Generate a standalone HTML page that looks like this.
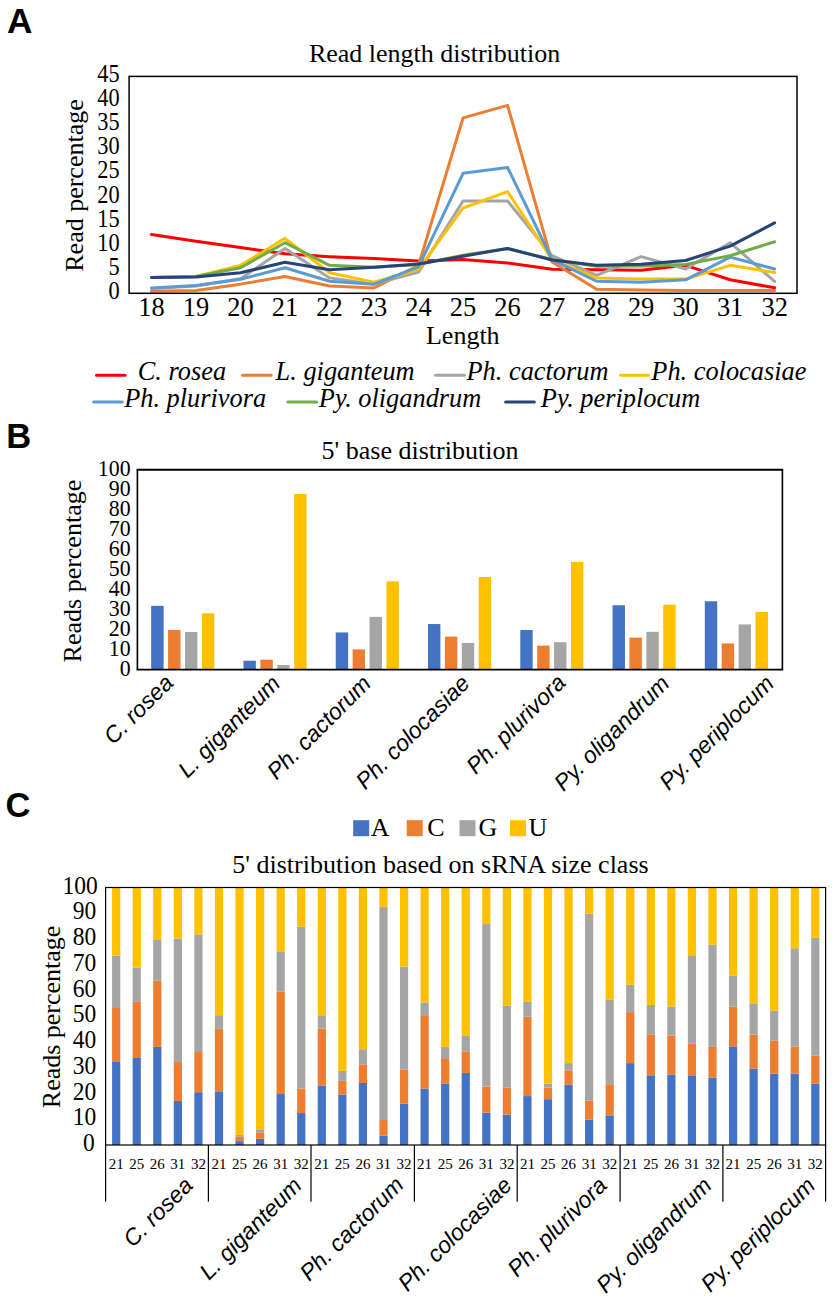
<!DOCTYPE html>
<html><head><meta charset="utf-8"><style>
html,body{margin:0;padding:0;background:#fff;}
svg{display:block;}
</style></head><body>
<svg width="833" height="1300" viewBox="0 0 833 1300">
<rect width="833" height="1300" fill="#fff"/>
<text x="7.00" y="33.20" font-family="'Liberation Sans', sans-serif" font-size="35.2" text-anchor="start" font-weight="bold" >A</text>
<text x="6.30" y="447.80" font-family="'Liberation Sans', sans-serif" font-size="34.5" text-anchor="start" font-weight="bold" >B</text>
<text x="5.60" y="817.20" font-family="'Liberation Sans', sans-serif" font-size="34.5" text-anchor="start" font-weight="bold" >C</text>
<text x="434.60" y="61.70" font-family="'Liberation Serif', serif" font-size="26" text-anchor="middle"  >Read length distribution</text>
<text transform="translate(83.2,185.5) rotate(-90)" font-family="'Liberation Serif', serif" font-size="26" text-anchor="middle">Read percentage</text>
<text transform="translate(119.6,298.90) scale(0.97,1.06)" font-family="'Liberation Serif', serif" font-size="23" text-anchor="end">0</text>
<text transform="translate(119.6,274.80) scale(0.97,1.06)" font-family="'Liberation Serif', serif" font-size="23" text-anchor="end">5</text>
<text transform="translate(119.6,250.70) scale(0.97,1.06)" font-family="'Liberation Serif', serif" font-size="23" text-anchor="end">10</text>
<text transform="translate(119.6,226.60) scale(0.97,1.06)" font-family="'Liberation Serif', serif" font-size="23" text-anchor="end">15</text>
<text transform="translate(119.6,202.50) scale(0.97,1.06)" font-family="'Liberation Serif', serif" font-size="23" text-anchor="end">20</text>
<text transform="translate(119.6,178.40) scale(0.97,1.06)" font-family="'Liberation Serif', serif" font-size="23" text-anchor="end">25</text>
<text transform="translate(119.6,154.30) scale(0.97,1.06)" font-family="'Liberation Serif', serif" font-size="23" text-anchor="end">30</text>
<text transform="translate(119.6,130.20) scale(0.97,1.06)" font-family="'Liberation Serif', serif" font-size="23" text-anchor="end">35</text>
<text transform="translate(119.6,106.10) scale(0.97,1.06)" font-family="'Liberation Serif', serif" font-size="23" text-anchor="end">40</text>
<text transform="translate(119.6,82.00) scale(0.97,1.06)" font-family="'Liberation Serif', serif" font-size="23" text-anchor="end">45</text>
<text x="151.46" y="315.80" font-family="'Liberation Serif', serif" font-size="26.4" text-anchor="middle"  >18</text>
<text x="195.97" y="315.80" font-family="'Liberation Serif', serif" font-size="26.4" text-anchor="middle"  >19</text>
<text x="240.48" y="315.80" font-family="'Liberation Serif', serif" font-size="26.4" text-anchor="middle"  >20</text>
<text x="285.00" y="315.80" font-family="'Liberation Serif', serif" font-size="26.4" text-anchor="middle"  >21</text>
<text x="329.51" y="315.80" font-family="'Liberation Serif', serif" font-size="26.4" text-anchor="middle"  >22</text>
<text x="374.02" y="315.80" font-family="'Liberation Serif', serif" font-size="26.4" text-anchor="middle"  >23</text>
<text x="418.54" y="315.80" font-family="'Liberation Serif', serif" font-size="26.4" text-anchor="middle"  >24</text>
<text x="463.05" y="315.80" font-family="'Liberation Serif', serif" font-size="26.4" text-anchor="middle"  >25</text>
<text x="507.56" y="315.80" font-family="'Liberation Serif', serif" font-size="26.4" text-anchor="middle"  >26</text>
<text x="552.08" y="315.80" font-family="'Liberation Serif', serif" font-size="26.4" text-anchor="middle"  >27</text>
<text x="596.59" y="315.80" font-family="'Liberation Serif', serif" font-size="26.4" text-anchor="middle"  >28</text>
<text x="641.10" y="315.80" font-family="'Liberation Serif', serif" font-size="26.4" text-anchor="middle"  >29</text>
<text x="685.62" y="315.80" font-family="'Liberation Serif', serif" font-size="26.4" text-anchor="middle"  >30</text>
<text x="730.13" y="315.80" font-family="'Liberation Serif', serif" font-size="26.4" text-anchor="middle"  >31</text>
<text x="774.64" y="315.80" font-family="'Liberation Serif', serif" font-size="26.4" text-anchor="middle"  >32</text>
<text x="462.80" y="343.90" font-family="'Liberation Serif', serif" font-size="26" text-anchor="middle"  >Length</text>
<polyline points="151.46,234.50 195.97,241.24 240.48,247.51 285.00,253.78 329.51,256.67 374.02,258.60 418.54,261.01 463.05,259.56 507.56,262.93 552.08,269.20 596.59,269.68 641.10,270.16 685.62,265.34 730.13,279.80 774.64,287.76" fill="none" stroke="#FF0000" stroke-width="3.0" stroke-linejoin="round" stroke-linecap="round"/>
<polyline points="151.46,291.37 195.97,290.41 240.48,284.14 285.00,276.43 329.51,286.07 374.02,288.00 418.54,265.34 463.05,117.85 507.56,105.32 552.08,261.97 596.59,289.20 641.10,289.93 685.62,290.41 730.13,290.41 774.64,290.41" fill="none" stroke="#ED7D31" stroke-width="3.0" stroke-linejoin="round" stroke-linecap="round"/>
<polyline points="151.46,288.48 195.97,286.07 240.48,278.84 285.00,248.47 329.51,277.88 374.02,284.14 418.54,272.09 463.05,201.00 507.56,201.00 552.08,255.70 596.59,275.47 641.10,256.67 685.62,268.96 730.13,242.69 774.64,281.49" fill="none" stroke="#A5A5A5" stroke-width="3.0" stroke-linejoin="round" stroke-linecap="round"/>
<polyline points="151.46,277.39 195.97,276.43 240.48,265.34 285.00,238.35 329.51,272.81 374.02,282.21 418.54,269.20 463.05,207.99 507.56,191.60 552.08,259.56 596.59,277.88 641.10,279.08 685.62,279.08 730.13,265.34 774.64,272.57" fill="none" stroke="#FFC000" stroke-width="3.0" stroke-linejoin="round" stroke-linecap="round"/>
<polyline points="151.46,288.00 195.97,285.59 240.48,279.32 285.00,267.75 329.51,281.25 374.02,284.14 418.54,266.79 463.05,173.28 507.56,167.50 552.08,259.56 596.59,281.25 641.10,282.21 685.62,279.80 730.13,257.15 774.64,268.96" fill="none" stroke="#5B9BD5" stroke-width="3.0" stroke-linejoin="round" stroke-linecap="round"/>
<polyline points="151.46,277.39 195.97,276.43 240.48,267.75 285.00,242.69 329.51,265.34 374.02,267.27 418.54,264.38 463.05,255.22 507.56,248.47 552.08,259.56 596.59,266.31 641.10,266.07 685.62,264.38 730.13,255.70 774.64,241.73" fill="none" stroke="#70AD47" stroke-width="3.0" stroke-linejoin="round" stroke-linecap="round"/>
<polyline points="151.46,277.39 195.97,276.91 240.48,272.81 285.00,262.21 329.51,269.68 374.02,267.27 418.54,263.90 463.05,256.19 507.56,248.47 552.08,260.04 596.59,265.34 641.10,264.14 685.62,260.52 730.13,246.06 774.64,222.93" fill="none" stroke="#264478" stroke-width="3.0" stroke-linejoin="round" stroke-linecap="round"/>
<rect x="129.10" y="76.4" width="667.90" height="216.90" fill="none" stroke="#000" stroke-width="1.5"/>
<line x1="96.50" y1="375.3" x2="125.00" y2="375.3" stroke="#FF0000" stroke-width="3" stroke-linecap="round"/>
<text x="137.80" y="380.40" font-family="'Liberation Serif', serif" font-size="26.35" text-anchor="start" font-style="italic" >C. rosea</text>
<line x1="242.50" y1="375.2" x2="271.00" y2="375.2" stroke="#ED7D31" stroke-width="3" stroke-linecap="round"/>
<text x="275.60" y="380.30" font-family="'Liberation Serif', serif" font-size="26.35" text-anchor="start" font-style="italic" >L. giganteum</text>
<line x1="435.60" y1="375.2" x2="464.50" y2="375.2" stroke="#A5A5A5" stroke-width="3" stroke-linecap="round"/>
<text x="466.50" y="380.30" font-family="'Liberation Serif', serif" font-size="26.35" text-anchor="start" font-style="italic" >Ph. cactorum</text>
<line x1="620.50" y1="375.2" x2="648.50" y2="375.2" stroke="#FFC000" stroke-width="3" stroke-linecap="round"/>
<text x="651.30" y="380.30" font-family="'Liberation Serif', serif" font-size="26.35" text-anchor="start" font-style="italic" >Ph. colocasiae</text>
<line x1="93.60" y1="402.1" x2="122.30" y2="402.1" stroke="#5B9BD5" stroke-width="3" stroke-linecap="round"/>
<text x="124.20" y="407.20" font-family="'Liberation Serif', serif" font-size="26.35" text-anchor="start" font-style="italic" >Ph. plurivora</text>
<line x1="287.90" y1="402.0" x2="316.60" y2="402.0" stroke="#70AD47" stroke-width="3" stroke-linecap="round"/>
<text x="318.80" y="407.10" font-family="'Liberation Serif', serif" font-size="26.35" text-anchor="start" font-style="italic" >Py. oligandrum</text>
<line x1="505.60" y1="402.0" x2="534.30" y2="402.0" stroke="#264478" stroke-width="3" stroke-linecap="round"/>
<text x="540.80" y="407.10" font-family="'Liberation Serif', serif" font-size="26.35" text-anchor="start" font-style="italic" >Py. periplocum</text>
<text x="420.00" y="458.60" font-family="'Liberation Serif', serif" font-size="26" text-anchor="middle"  >5' base distribution</text>
<text transform="translate(80.5,571.1) rotate(-90)" font-family="'Liberation Serif', serif" font-size="26" text-anchor="middle">Reads percentage</text>
<text transform="translate(130.6,676.20) scale(0.95,1.02)" font-family="'Liberation Serif', serif" font-size="23" text-anchor="end">0</text>
<text transform="translate(130.6,656.22) scale(0.95,1.02)" font-family="'Liberation Serif', serif" font-size="23" text-anchor="end">10</text>
<text transform="translate(130.6,636.24) scale(0.95,1.02)" font-family="'Liberation Serif', serif" font-size="23" text-anchor="end">20</text>
<text transform="translate(130.6,616.26) scale(0.95,1.02)" font-family="'Liberation Serif', serif" font-size="23" text-anchor="end">30</text>
<text transform="translate(130.6,596.28) scale(0.95,1.02)" font-family="'Liberation Serif', serif" font-size="23" text-anchor="end">40</text>
<text transform="translate(130.6,576.30) scale(0.95,1.02)" font-family="'Liberation Serif', serif" font-size="23" text-anchor="end">50</text>
<text transform="translate(130.6,556.32) scale(0.95,1.02)" font-family="'Liberation Serif', serif" font-size="23" text-anchor="end">60</text>
<text transform="translate(130.6,536.34) scale(0.95,1.02)" font-family="'Liberation Serif', serif" font-size="23" text-anchor="end">70</text>
<text transform="translate(130.6,516.36) scale(0.95,1.02)" font-family="'Liberation Serif', serif" font-size="23" text-anchor="end">80</text>
<text transform="translate(130.6,496.38) scale(0.95,1.02)" font-family="'Liberation Serif', serif" font-size="23" text-anchor="end">90</text>
<text transform="translate(130.6,476.40) scale(0.95,1.02)" font-family="'Liberation Serif', serif" font-size="23" text-anchor="end">100</text>
<rect x="151.20" y="605.86" width="12.4" height="63.74" fill="#4472C4"/>
<rect x="168.10" y="629.94" width="12.4" height="39.66" fill="#ED7D31"/>
<rect x="185.00" y="631.94" width="12.4" height="37.66" fill="#A5A5A5"/>
<rect x="201.90" y="613.26" width="12.4" height="56.34" fill="#FFC000"/>
<rect x="243.47" y="660.71" width="12.4" height="8.89" fill="#4472C4"/>
<rect x="260.37" y="659.71" width="12.4" height="9.89" fill="#ED7D31"/>
<rect x="277.27" y="665.00" width="12.4" height="4.60" fill="#A5A5A5"/>
<rect x="294.17" y="493.98" width="12.4" height="175.62" fill="#FFC000"/>
<rect x="335.74" y="632.44" width="12.4" height="37.16" fill="#4472C4"/>
<rect x="352.64" y="649.42" width="12.4" height="20.18" fill="#ED7D31"/>
<rect x="369.54" y="616.85" width="12.4" height="52.75" fill="#A5A5A5"/>
<rect x="386.44" y="581.29" width="12.4" height="88.31" fill="#FFC000"/>
<rect x="428.01" y="624.05" width="12.4" height="45.55" fill="#4472C4"/>
<rect x="444.91" y="636.63" width="12.4" height="32.97" fill="#ED7D31"/>
<rect x="461.81" y="642.93" width="12.4" height="26.67" fill="#A5A5A5"/>
<rect x="478.71" y="576.99" width="12.4" height="92.61" fill="#FFC000"/>
<rect x="520.28" y="630.04" width="12.4" height="39.56" fill="#4472C4"/>
<rect x="537.18" y="645.62" width="12.4" height="23.98" fill="#ED7D31"/>
<rect x="554.08" y="642.23" width="12.4" height="27.37" fill="#A5A5A5"/>
<rect x="570.98" y="561.91" width="12.4" height="107.69" fill="#FFC000"/>
<rect x="612.55" y="605.26" width="12.4" height="64.34" fill="#4472C4"/>
<rect x="629.45" y="637.63" width="12.4" height="31.97" fill="#ED7D31"/>
<rect x="646.35" y="631.84" width="12.4" height="37.76" fill="#A5A5A5"/>
<rect x="663.25" y="604.66" width="12.4" height="64.94" fill="#FFC000"/>
<rect x="704.82" y="601.27" width="12.4" height="68.33" fill="#4472C4"/>
<rect x="721.72" y="643.43" width="12.4" height="26.17" fill="#ED7D31"/>
<rect x="738.62" y="624.45" width="12.4" height="45.15" fill="#A5A5A5"/>
<rect x="755.52" y="612.06" width="12.4" height="57.54" fill="#FFC000"/>
<path d="M137.4,469.8 V669.6 M782.4,469.8 V669.6" stroke="#000" stroke-width="1.6" fill="none"/>
<path d="M136.6,469.8 H783.1999999999999 M136.6,669.6 H783.1999999999999" stroke="#000" stroke-width="1.9" fill="none"/>
<text transform="translate(174.70,684.10) rotate(-45)" font-family="'Liberation Sans', sans-serif" font-size="23" font-style="italic" text-anchor="end">C. rosea</text>
<text transform="translate(281.50,685.00) rotate(-45)" font-family="'Liberation Sans', sans-serif" font-size="23" font-style="italic" text-anchor="end">L. giganteum</text>
<text transform="translate(372.30,685.00) rotate(-45)" font-family="'Liberation Sans', sans-serif" font-size="23" font-style="italic" text-anchor="end">Ph. cactorum</text>
<text transform="translate(471.10,684.70) rotate(-45)" font-family="'Liberation Sans', sans-serif" font-size="23" font-style="italic" text-anchor="end">Ph. colocasiae</text>
<text transform="translate(567.00,684.00) rotate(-45)" font-family="'Liberation Sans', sans-serif" font-size="23" font-style="italic" text-anchor="end">Ph. plurivora</text>
<text transform="translate(670.80,685.00) rotate(-45)" font-family="'Liberation Sans', sans-serif" font-size="23" font-style="italic" text-anchor="end">Py. oligandrum</text>
<text transform="translate(775.20,685.00) rotate(-45)" font-family="'Liberation Sans', sans-serif" font-size="23" font-style="italic" text-anchor="end">Py. periplocum</text>
<rect x="353.2" y="820.2" width="16" height="16" fill="#4472C4"/>
<text x="370.70" y="836.40" font-family="'Liberation Serif', serif" font-size="26" text-anchor="start"  >A</text>
<rect x="406.7" y="820.2" width="16" height="16" fill="#ED7D31"/>
<text x="427.20" y="836.40" font-family="'Liberation Serif', serif" font-size="26" text-anchor="start"  >C</text>
<rect x="459.5" y="820.2" width="16" height="16" fill="#A5A5A5"/>
<text x="478.50" y="836.40" font-family="'Liberation Serif', serif" font-size="26" text-anchor="start"  >G</text>
<rect x="510.0" y="820.2" width="16" height="16" fill="#FFC000"/>
<text x="528.50" y="836.40" font-family="'Liberation Serif', serif" font-size="26" text-anchor="start"  >U</text>
<text x="440.50" y="872.70" font-family="'Liberation Serif', serif" font-size="26" text-anchor="middle"  >5' distribution based on sRNA size class</text>
<text transform="translate(60.0,1016.9) rotate(-90)" font-family="'Liberation Serif', serif" font-size="26" text-anchor="middle">Reads percentage</text>
<text transform="translate(94.7,1151.00) scale(1,1.05)" font-family="'Liberation Serif', serif" font-size="23.5" text-anchor="end">0</text>
<text transform="translate(96.2,1125.25) scale(1,1.05)" font-family="'Liberation Serif', serif" font-size="23.5" text-anchor="end">10</text>
<text transform="translate(96.2,1099.50) scale(1,1.05)" font-family="'Liberation Serif', serif" font-size="23.5" text-anchor="end">20</text>
<text transform="translate(96.2,1073.75) scale(1,1.05)" font-family="'Liberation Serif', serif" font-size="23.5" text-anchor="end">30</text>
<text transform="translate(96.2,1048.00) scale(1,1.05)" font-family="'Liberation Serif', serif" font-size="23.5" text-anchor="end">40</text>
<text transform="translate(96.2,1022.25) scale(1,1.05)" font-family="'Liberation Serif', serif" font-size="23.5" text-anchor="end">50</text>
<text transform="translate(96.2,996.50) scale(1,1.05)" font-family="'Liberation Serif', serif" font-size="23.5" text-anchor="end">60</text>
<text transform="translate(96.2,970.75) scale(1,1.05)" font-family="'Liberation Serif', serif" font-size="23.5" text-anchor="end">70</text>
<text transform="translate(96.2,945.00) scale(1,1.05)" font-family="'Liberation Serif', serif" font-size="23.5" text-anchor="end">80</text>
<text transform="translate(96.2,919.25) scale(1,1.05)" font-family="'Liberation Serif', serif" font-size="23.5" text-anchor="end">90</text>
<text transform="translate(97.7,893.50) scale(1,1.05)" font-family="'Liberation Serif', serif" font-size="23.5" text-anchor="end">100</text>
<rect x="112.08" y="1061.31" width="8.2" height="83.69" fill="#4472C4"/>
<rect x="112.08" y="1008.01" width="8.2" height="53.30" fill="#ED7D31"/>
<rect x="112.08" y="955.74" width="8.2" height="52.27" fill="#A5A5A5"/>
<rect x="112.08" y="887.50" width="8.2" height="68.24" fill="#FFC000"/>
<text x="116.18" y="1168.60" font-family="'Liberation Serif', serif" font-size="15" text-anchor="middle"  >21</text>
<rect x="132.64" y="1057.96" width="8.2" height="87.03" fill="#4472C4"/>
<rect x="132.64" y="1001.32" width="8.2" height="56.65" fill="#ED7D31"/>
<rect x="132.64" y="967.58" width="8.2" height="33.73" fill="#A5A5A5"/>
<rect x="132.64" y="887.50" width="8.2" height="80.08" fill="#FFC000"/>
<text x="136.74" y="1168.60" font-family="'Liberation Serif', serif" font-size="15" text-anchor="middle"  >25</text>
<rect x="153.21" y="1046.89" width="8.2" height="98.11" fill="#4472C4"/>
<rect x="153.21" y="980.46" width="8.2" height="66.44" fill="#ED7D31"/>
<rect x="153.21" y="940.03" width="8.2" height="40.43" fill="#A5A5A5"/>
<rect x="153.21" y="887.50" width="8.2" height="52.53" fill="#FFC000"/>
<text x="157.31" y="1168.60" font-family="'Liberation Serif', serif" font-size="15" text-anchor="middle"  >26</text>
<rect x="173.77" y="1100.97" width="8.2" height="44.03" fill="#4472C4"/>
<rect x="173.77" y="1062.09" width="8.2" height="38.88" fill="#ED7D31"/>
<rect x="173.77" y="938.49" width="8.2" height="123.60" fill="#A5A5A5"/>
<rect x="173.77" y="887.50" width="8.2" height="50.98" fill="#FFC000"/>
<text x="177.87" y="1168.60" font-family="'Liberation Serif', serif" font-size="15" text-anchor="middle"  >31</text>
<rect x="194.33" y="1092.21" width="8.2" height="52.79" fill="#4472C4"/>
<rect x="194.33" y="1052.04" width="8.2" height="40.17" fill="#ED7D31"/>
<rect x="194.33" y="934.37" width="8.2" height="117.68" fill="#A5A5A5"/>
<rect x="194.33" y="887.50" width="8.2" height="46.87" fill="#FFC000"/>
<text x="198.43" y="1168.60" font-family="'Liberation Serif', serif" font-size="15" text-anchor="middle"  >32</text>
<rect x="214.90" y="1091.95" width="8.2" height="53.05" fill="#4472C4"/>
<rect x="214.90" y="1028.87" width="8.2" height="63.09" fill="#ED7D31"/>
<rect x="214.90" y="1015.22" width="8.2" height="13.65" fill="#A5A5A5"/>
<rect x="214.90" y="887.50" width="8.2" height="127.72" fill="#FFC000"/>
<text x="219.00" y="1168.60" font-family="'Liberation Serif', serif" font-size="15" text-anchor="middle"  >21</text>
<rect x="235.46" y="1141.14" width="8.2" height="3.86" fill="#4472C4"/>
<rect x="235.46" y="1136.76" width="8.2" height="4.38" fill="#ED7D31"/>
<rect x="235.46" y="1134.96" width="8.2" height="1.80" fill="#A5A5A5"/>
<rect x="235.46" y="887.50" width="8.2" height="247.46" fill="#FFC000"/>
<text x="239.56" y="1168.60" font-family="'Liberation Serif', serif" font-size="15" text-anchor="middle"  >25</text>
<rect x="256.02" y="1138.82" width="8.2" height="6.18" fill="#4472C4"/>
<rect x="256.02" y="1132.38" width="8.2" height="6.44" fill="#ED7D31"/>
<rect x="256.02" y="1129.29" width="8.2" height="3.09" fill="#A5A5A5"/>
<rect x="256.02" y="887.50" width="8.2" height="241.79" fill="#FFC000"/>
<text x="260.12" y="1168.60" font-family="'Liberation Serif', serif" font-size="15" text-anchor="middle"  >26</text>
<rect x="276.58" y="1094.02" width="8.2" height="50.99" fill="#4472C4"/>
<rect x="276.58" y="991.53" width="8.2" height="102.48" fill="#ED7D31"/>
<rect x="276.58" y="951.36" width="8.2" height="40.17" fill="#A5A5A5"/>
<rect x="276.58" y="887.50" width="8.2" height="63.86" fill="#FFC000"/>
<text x="280.68" y="1168.60" font-family="'Liberation Serif', serif" font-size="15" text-anchor="middle"  >31</text>
<rect x="297.15" y="1113.07" width="8.2" height="31.93" fill="#4472C4"/>
<rect x="297.15" y="1088.61" width="8.2" height="24.46" fill="#ED7D31"/>
<rect x="297.15" y="926.64" width="8.2" height="161.97" fill="#A5A5A5"/>
<rect x="297.15" y="887.50" width="8.2" height="39.14" fill="#FFC000"/>
<text x="301.25" y="1168.60" font-family="'Liberation Serif', serif" font-size="15" text-anchor="middle"  >32</text>
<rect x="317.71" y="1085.52" width="8.2" height="59.48" fill="#4472C4"/>
<rect x="317.71" y="1028.61" width="8.2" height="56.91" fill="#ED7D31"/>
<rect x="317.71" y="1015.99" width="8.2" height="12.62" fill="#A5A5A5"/>
<rect x="317.71" y="887.50" width="8.2" height="128.49" fill="#FFC000"/>
<text x="321.81" y="1168.60" font-family="'Liberation Serif', serif" font-size="15" text-anchor="middle"  >21</text>
<rect x="338.27" y="1094.53" width="8.2" height="50.47" fill="#4472C4"/>
<rect x="338.27" y="1080.88" width="8.2" height="13.65" fill="#ED7D31"/>
<rect x="338.27" y="1070.84" width="8.2" height="10.04" fill="#A5A5A5"/>
<rect x="338.27" y="887.50" width="8.2" height="183.34" fill="#FFC000"/>
<text x="342.37" y="1168.60" font-family="'Liberation Serif', serif" font-size="15" text-anchor="middle"  >25</text>
<rect x="358.84" y="1082.94" width="8.2" height="62.06" fill="#4472C4"/>
<rect x="358.84" y="1064.40" width="8.2" height="18.54" fill="#ED7D31"/>
<rect x="358.84" y="1049.21" width="8.2" height="15.19" fill="#A5A5A5"/>
<rect x="358.84" y="887.50" width="8.2" height="161.71" fill="#FFC000"/>
<text x="362.94" y="1168.60" font-family="'Liberation Serif', serif" font-size="15" text-anchor="middle"  >26</text>
<rect x="379.40" y="1135.73" width="8.2" height="9.27" fill="#4472C4"/>
<rect x="379.40" y="1120.02" width="8.2" height="15.71" fill="#ED7D31"/>
<rect x="379.40" y="907.07" width="8.2" height="212.95" fill="#A5A5A5"/>
<rect x="379.40" y="887.50" width="8.2" height="19.57" fill="#FFC000"/>
<text x="383.50" y="1168.60" font-family="'Liberation Serif', serif" font-size="15" text-anchor="middle"  >31</text>
<rect x="399.96" y="1103.80" width="8.2" height="41.20" fill="#4472C4"/>
<rect x="399.96" y="1069.81" width="8.2" height="33.99" fill="#ED7D31"/>
<rect x="399.96" y="966.55" width="8.2" height="103.26" fill="#A5A5A5"/>
<rect x="399.96" y="887.50" width="8.2" height="79.05" fill="#FFC000"/>
<text x="404.06" y="1168.60" font-family="'Liberation Serif', serif" font-size="15" text-anchor="middle"  >32</text>
<rect x="420.52" y="1088.61" width="8.2" height="56.39" fill="#4472C4"/>
<rect x="420.52" y="1015.22" width="8.2" height="73.39" fill="#ED7D31"/>
<rect x="420.52" y="1002.35" width="8.2" height="12.88" fill="#A5A5A5"/>
<rect x="420.52" y="887.50" width="8.2" height="114.85" fill="#FFC000"/>
<text x="424.62" y="1168.60" font-family="'Liberation Serif', serif" font-size="15" text-anchor="middle"  >21</text>
<rect x="441.09" y="1083.46" width="8.2" height="61.54" fill="#4472C4"/>
<rect x="441.09" y="1058.99" width="8.2" height="24.46" fill="#ED7D31"/>
<rect x="441.09" y="1046.89" width="8.2" height="12.10" fill="#A5A5A5"/>
<rect x="441.09" y="887.50" width="8.2" height="159.39" fill="#FFC000"/>
<text x="445.19" y="1168.60" font-family="'Liberation Serif', serif" font-size="15" text-anchor="middle"  >25</text>
<rect x="461.65" y="1072.90" width="8.2" height="72.10" fill="#4472C4"/>
<rect x="461.65" y="1051.79" width="8.2" height="21.12" fill="#ED7D31"/>
<rect x="461.65" y="1035.82" width="8.2" height="15.96" fill="#A5A5A5"/>
<rect x="461.65" y="887.50" width="8.2" height="148.32" fill="#FFC000"/>
<text x="465.75" y="1168.60" font-family="'Liberation Serif', serif" font-size="15" text-anchor="middle"  >26</text>
<rect x="482.21" y="1112.56" width="8.2" height="32.45" fill="#4472C4"/>
<rect x="482.21" y="1086.55" width="8.2" height="26.01" fill="#ED7D31"/>
<rect x="482.21" y="924.07" width="8.2" height="162.48" fill="#A5A5A5"/>
<rect x="482.21" y="887.50" width="8.2" height="36.57" fill="#FFC000"/>
<text x="486.31" y="1168.60" font-family="'Liberation Serif', serif" font-size="15" text-anchor="middle"  >31</text>
<rect x="502.78" y="1114.62" width="8.2" height="30.39" fill="#4472C4"/>
<rect x="502.78" y="1087.58" width="8.2" height="27.04" fill="#ED7D31"/>
<rect x="502.78" y="1005.69" width="8.2" height="81.89" fill="#A5A5A5"/>
<rect x="502.78" y="887.50" width="8.2" height="118.19" fill="#FFC000"/>
<text x="506.88" y="1168.60" font-family="'Liberation Serif', serif" font-size="15" text-anchor="middle"  >32</text>
<rect x="523.34" y="1096.08" width="8.2" height="48.93" fill="#4472C4"/>
<rect x="523.34" y="1016.76" width="8.2" height="79.31" fill="#ED7D31"/>
<rect x="523.34" y="1001.57" width="8.2" height="15.19" fill="#A5A5A5"/>
<rect x="523.34" y="887.50" width="8.2" height="114.07" fill="#FFC000"/>
<text x="527.44" y="1168.60" font-family="'Liberation Serif', serif" font-size="15" text-anchor="middle"  >21</text>
<rect x="543.90" y="1099.16" width="8.2" height="45.84" fill="#4472C4"/>
<rect x="543.90" y="1087.58" width="8.2" height="11.59" fill="#ED7D31"/>
<rect x="543.90" y="1083.46" width="8.2" height="4.12" fill="#A5A5A5"/>
<rect x="543.90" y="887.50" width="8.2" height="195.96" fill="#FFC000"/>
<text x="548.00" y="1168.60" font-family="'Liberation Serif', serif" font-size="15" text-anchor="middle"  >25</text>
<rect x="564.46" y="1084.74" width="8.2" height="60.26" fill="#4472C4"/>
<rect x="564.46" y="1070.33" width="8.2" height="14.42" fill="#ED7D31"/>
<rect x="564.46" y="1063.12" width="8.2" height="7.21" fill="#A5A5A5"/>
<rect x="564.46" y="887.50" width="8.2" height="175.62" fill="#FFC000"/>
<text x="568.56" y="1168.60" font-family="'Liberation Serif', serif" font-size="15" text-anchor="middle"  >26</text>
<rect x="585.03" y="1119.51" width="8.2" height="25.49" fill="#4472C4"/>
<rect x="585.03" y="1100.71" width="8.2" height="18.80" fill="#ED7D31"/>
<rect x="585.03" y="913.76" width="8.2" height="186.94" fill="#A5A5A5"/>
<rect x="585.03" y="887.50" width="8.2" height="26.27" fill="#FFC000"/>
<text x="589.13" y="1168.60" font-family="'Liberation Serif', serif" font-size="15" text-anchor="middle"  >31</text>
<rect x="605.59" y="1115.90" width="8.2" height="29.10" fill="#4472C4"/>
<rect x="605.59" y="1084.23" width="8.2" height="31.67" fill="#ED7D31"/>
<rect x="605.59" y="999.77" width="8.2" height="84.46" fill="#A5A5A5"/>
<rect x="605.59" y="887.50" width="8.2" height="112.27" fill="#FFC000"/>
<text x="609.69" y="1168.60" font-family="'Liberation Serif', serif" font-size="15" text-anchor="middle"  >32</text>
<rect x="626.15" y="1063.12" width="8.2" height="81.89" fill="#4472C4"/>
<rect x="626.15" y="1012.13" width="8.2" height="50.99" fill="#ED7D31"/>
<rect x="626.15" y="984.84" width="8.2" height="27.30" fill="#A5A5A5"/>
<rect x="626.15" y="887.50" width="8.2" height="97.33" fill="#FFC000"/>
<text x="630.25" y="1168.60" font-family="'Liberation Serif', serif" font-size="15" text-anchor="middle"  >21</text>
<rect x="646.72" y="1075.99" width="8.2" height="69.01" fill="#4472C4"/>
<rect x="646.72" y="1034.79" width="8.2" height="41.20" fill="#ED7D31"/>
<rect x="646.72" y="1004.92" width="8.2" height="29.87" fill="#A5A5A5"/>
<rect x="646.72" y="887.50" width="8.2" height="117.42" fill="#FFC000"/>
<text x="650.82" y="1168.60" font-family="'Liberation Serif', serif" font-size="15" text-anchor="middle"  >25</text>
<rect x="667.28" y="1074.70" width="8.2" height="70.30" fill="#4472C4"/>
<rect x="667.28" y="1035.56" width="8.2" height="39.14" fill="#ED7D31"/>
<rect x="667.28" y="1006.47" width="8.2" height="29.10" fill="#A5A5A5"/>
<rect x="667.28" y="887.50" width="8.2" height="118.97" fill="#FFC000"/>
<text x="671.38" y="1168.60" font-family="'Liberation Serif', serif" font-size="15" text-anchor="middle"  >26</text>
<rect x="687.84" y="1075.99" width="8.2" height="69.01" fill="#4472C4"/>
<rect x="687.84" y="1043.80" width="8.2" height="32.19" fill="#ED7D31"/>
<rect x="687.84" y="956.00" width="8.2" height="87.81" fill="#A5A5A5"/>
<rect x="687.84" y="887.50" width="8.2" height="68.49" fill="#FFC000"/>
<text x="691.94" y="1168.60" font-family="'Liberation Serif', serif" font-size="15" text-anchor="middle"  >31</text>
<rect x="708.40" y="1077.54" width="8.2" height="67.47" fill="#4472C4"/>
<rect x="708.40" y="1046.89" width="8.2" height="30.64" fill="#ED7D31"/>
<rect x="708.40" y="944.66" width="8.2" height="102.23" fill="#A5A5A5"/>
<rect x="708.40" y="887.50" width="8.2" height="57.17" fill="#FFC000"/>
<text x="712.50" y="1168.60" font-family="'Liberation Serif', serif" font-size="15" text-anchor="middle"  >32</text>
<rect x="728.97" y="1046.38" width="8.2" height="98.62" fill="#4472C4"/>
<rect x="728.97" y="1006.72" width="8.2" height="39.66" fill="#ED7D31"/>
<rect x="728.97" y="975.57" width="8.2" height="31.16" fill="#A5A5A5"/>
<rect x="728.97" y="887.50" width="8.2" height="88.07" fill="#FFC000"/>
<text x="733.07" y="1168.60" font-family="'Liberation Serif', serif" font-size="15" text-anchor="middle"  >21</text>
<rect x="749.53" y="1068.78" width="8.2" height="76.22" fill="#4472C4"/>
<rect x="749.53" y="1034.53" width="8.2" height="34.25" fill="#ED7D31"/>
<rect x="749.53" y="1003.38" width="8.2" height="31.16" fill="#A5A5A5"/>
<rect x="749.53" y="887.50" width="8.2" height="115.88" fill="#FFC000"/>
<text x="753.63" y="1168.60" font-family="'Liberation Serif', serif" font-size="15" text-anchor="middle"  >25</text>
<rect x="770.09" y="1073.67" width="8.2" height="71.33" fill="#4472C4"/>
<rect x="770.09" y="1040.71" width="8.2" height="32.96" fill="#ED7D31"/>
<rect x="770.09" y="1010.84" width="8.2" height="29.87" fill="#A5A5A5"/>
<rect x="770.09" y="887.50" width="8.2" height="123.34" fill="#FFC000"/>
<text x="774.19" y="1168.60" font-family="'Liberation Serif', serif" font-size="15" text-anchor="middle"  >26</text>
<rect x="790.66" y="1073.67" width="8.2" height="71.33" fill="#4472C4"/>
<rect x="790.66" y="1046.38" width="8.2" height="27.29" fill="#ED7D31"/>
<rect x="790.66" y="948.27" width="8.2" height="98.11" fill="#A5A5A5"/>
<rect x="790.66" y="887.50" width="8.2" height="60.77" fill="#FFC000"/>
<text x="794.76" y="1168.60" font-family="'Liberation Serif', serif" font-size="15" text-anchor="middle"  >31</text>
<rect x="811.22" y="1083.71" width="8.2" height="61.29" fill="#4472C4"/>
<rect x="811.22" y="1055.65" width="8.2" height="28.07" fill="#ED7D31"/>
<rect x="811.22" y="937.71" width="8.2" height="117.94" fill="#A5A5A5"/>
<rect x="811.22" y="887.50" width="8.2" height="50.21" fill="#FFC000"/>
<text x="815.32" y="1168.60" font-family="'Liberation Serif', serif" font-size="15" text-anchor="middle"  >32</text>
<rect x="105.6" y="887.5" width="720.00" height="257.50" fill="none" stroke="#000" stroke-width="1.2"/>
<line x1="105.60" y1="1145.0" x2="105.60" y2="1201.7" stroke="#000" stroke-width="1.2"/>
<line x1="208.40" y1="1145.0" x2="208.40" y2="1201.7" stroke="#000" stroke-width="1.2"/>
<line x1="311.00" y1="1145.0" x2="311.00" y2="1201.7" stroke="#000" stroke-width="1.2"/>
<line x1="414.40" y1="1145.0" x2="414.40" y2="1201.7" stroke="#000" stroke-width="1.2"/>
<line x1="517.20" y1="1145.0" x2="517.20" y2="1201.7" stroke="#000" stroke-width="1.2"/>
<line x1="620.10" y1="1145.0" x2="620.10" y2="1201.7" stroke="#000" stroke-width="1.2"/>
<line x1="722.90" y1="1145.0" x2="722.90" y2="1201.7" stroke="#000" stroke-width="1.2"/>
<line x1="825.60" y1="1145.0" x2="825.60" y2="1201.7" stroke="#000" stroke-width="1.2"/>
<text transform="translate(194.30,1186.80) rotate(-45)" font-family="'Liberation Sans', sans-serif" font-size="23" font-style="italic" text-anchor="end">C. rosea</text>
<text transform="translate(303.10,1187.00) rotate(-45)" font-family="'Liberation Sans', sans-serif" font-size="23" font-style="italic" text-anchor="end">L. giganteum</text>
<text transform="translate(405.00,1186.30) rotate(-45)" font-family="'Liberation Sans', sans-serif" font-size="23" font-style="italic" text-anchor="end">Ph. cactorum</text>
<text transform="translate(513.20,1186.80) rotate(-45)" font-family="'Liberation Sans', sans-serif" font-size="23" font-style="italic" text-anchor="end">Ph. colocasiae</text>
<text transform="translate(608.30,1186.80) rotate(-45)" font-family="'Liberation Sans', sans-serif" font-size="23" font-style="italic" text-anchor="end">Ph. plurivora</text>
<text transform="translate(713.00,1187.00) rotate(-45)" font-family="'Liberation Sans', sans-serif" font-size="23" font-style="italic" text-anchor="end">Py. oligandrum</text>
<text transform="translate(816.60,1187.00) rotate(-45)" font-family="'Liberation Sans', sans-serif" font-size="23" font-style="italic" text-anchor="end">Py. periplocum</text>
</svg>
</body></html>
